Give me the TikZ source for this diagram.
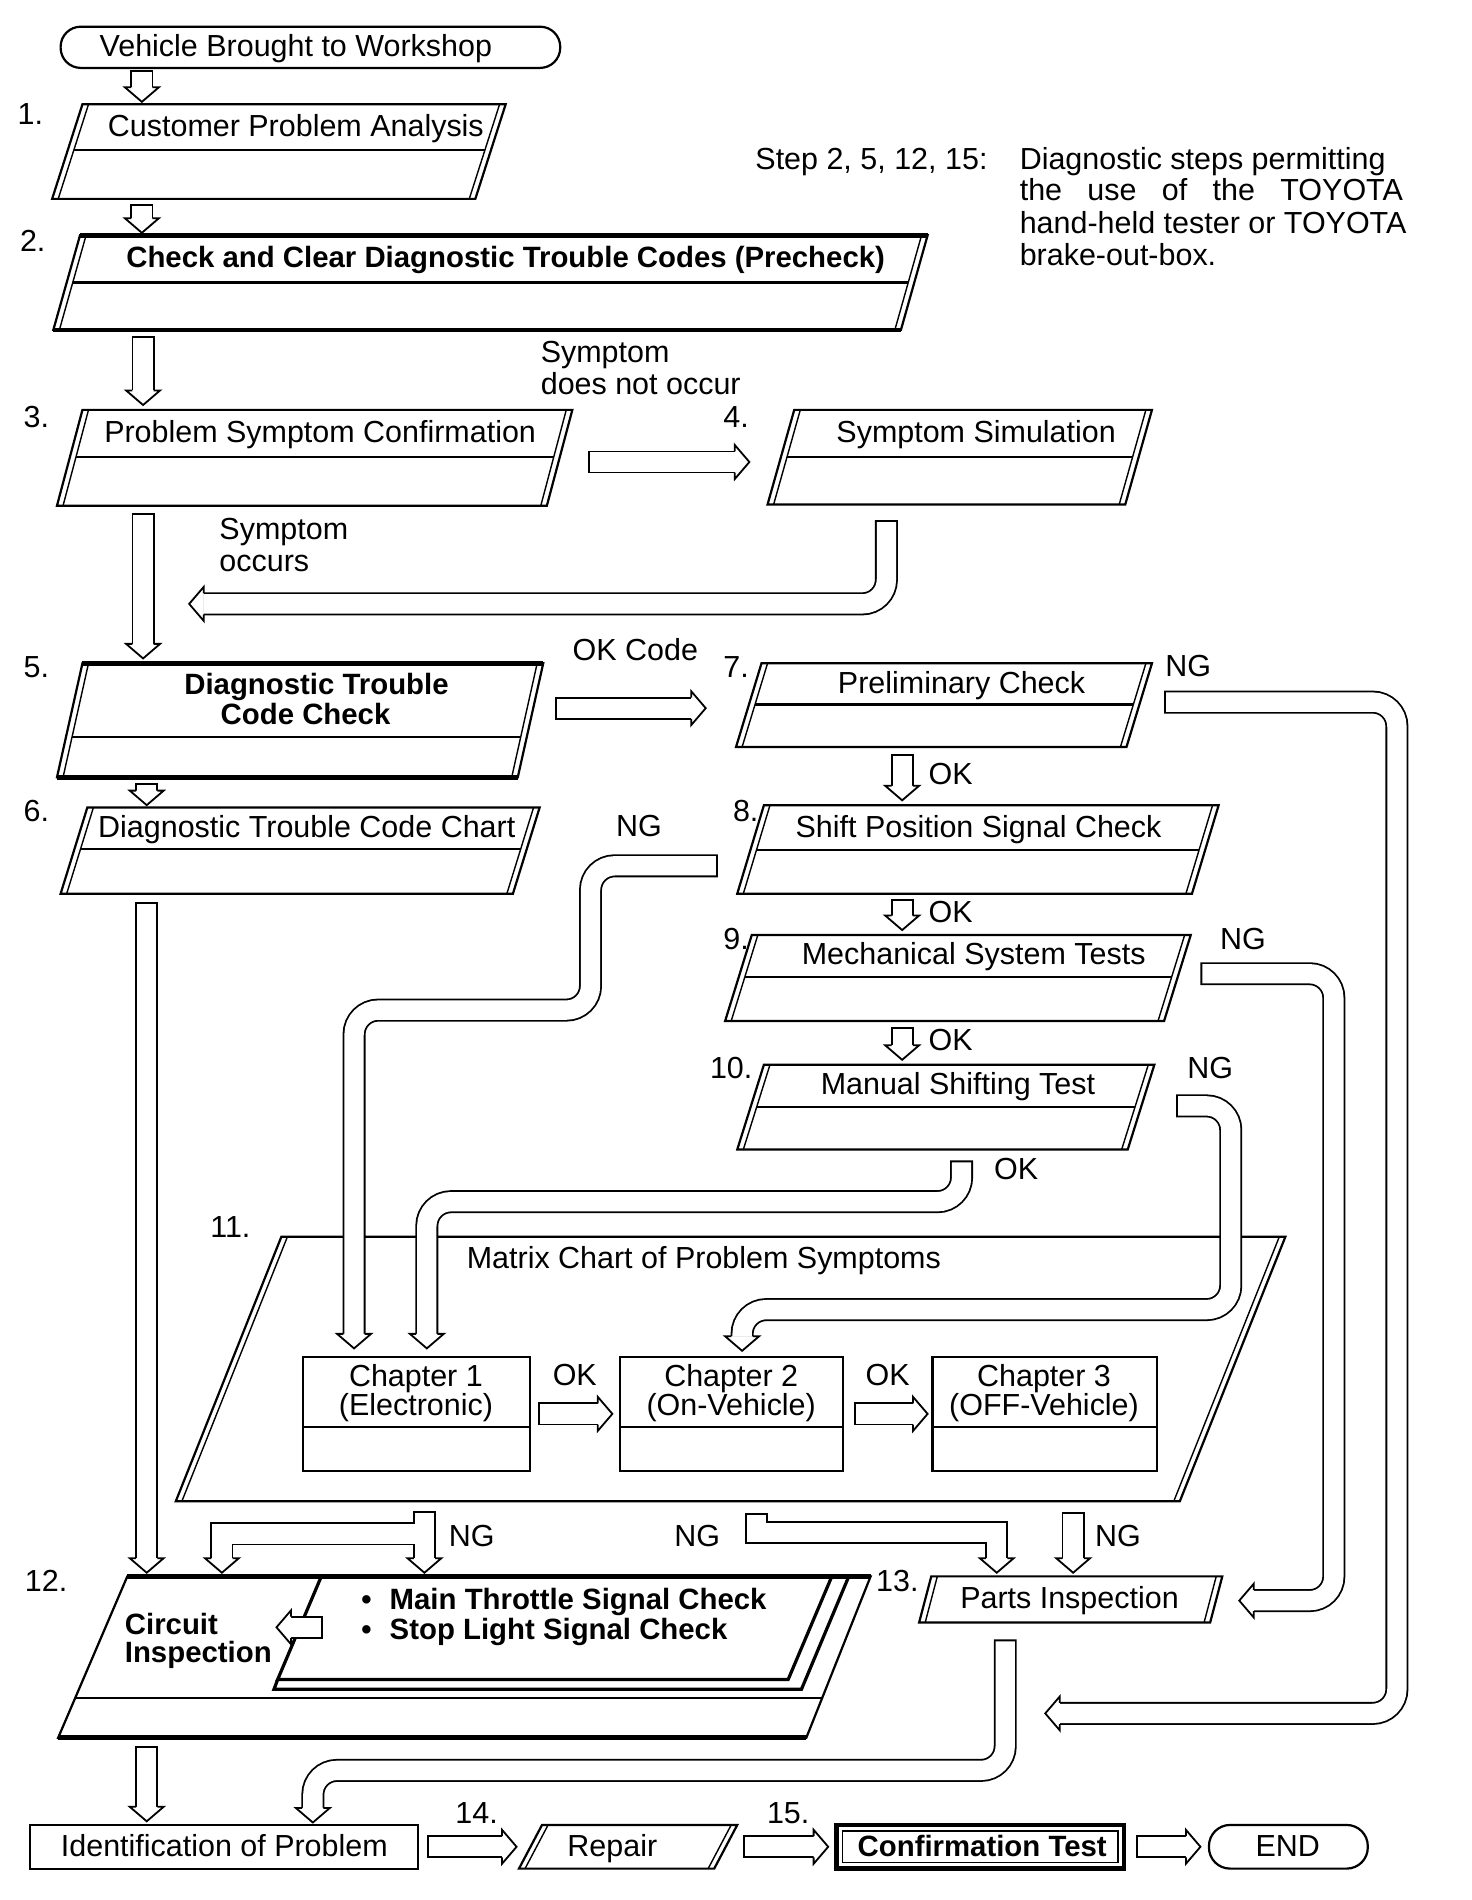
\documentclass[tikz,border=0pt]{standalone}
\usepackage{fontspec}
\setmainfont{Liberation Sans}
\usetikzlibrary{calc}
\newcommand\fnt{\fontsize{15.15pt}{16pt}\selectfont}
\newcommand\bfnt{\fontsize{14.6pt}{16pt}\selectfont\bfseries}
\tikzset{
  every node/.style={inner sep=0pt, outer sep=0pt, font=\fnt, yshift=-2pt},
  t/.style={anchor=mid},
  tw/.style={anchor=mid west},
  shp/.style={line width=1.1pt, line join=miter},
  thintwo/.style={line width=0.7pt},
  heavy/.style={line width=2.3pt},
  medline/.style={line width=1.6pt, line join=miter},
  pipeO/.style={line width=11.4pt, rounded corners=12pt},
  pipeI/.style={white, line width=9.6pt, rounded corners=12pt, shorten <=1.0pt},
  headst/.style={fill=white, draw=black, line width=0.9pt, line join=miter},
}
% parallelogram: [top/bottom style]{name}{xTL}{yT}{xTR}{yB}{slant}
\newcommand\para[7][]{%
  \draw[shp] (#3,#4) -- (#5,#4) -- (#5-#7,#6) -- (#3-#7,#6) -- cycle;
  \draw[thintwo] (#3+5,#4) -- (#3-#7+5,#6);
  \draw[thintwo] (#5-5,#4) -- (#5-#7-5,#6);
  \ifx&#1&\else\draw[#1] (#3,#4) -- (#5,#4); \draw[#1] (#5-#7,#6) -- (#3-#7,#6);\fi
  \coordinate (#2) at ($(#3,#4)!0.5!(#5-#7,#6)$);
}
% middle line: {xTL}{yT}{xTR}{yB}{slant}{ymid}
\newcommand\pmid[6]{%
  \draw[shp] ({#1+5-#5*(#6-#2)/(#4-#2)},#6) -- ({#3-5-#5*(#6-#2)/(#4-#2)},#6);}
% arrow heads
\newcommand\headD[2]{\filldraw[headst] (#1-8.75,#2-12) -- (#1-14,#2-12) -- (#1,#2) -- (#1+14,#2-12) -- (#1+8.75,#2-12);}
\newcommand\headR[2]{\filldraw[headst] (#1-12,#2-8.75) -- (#1-12,#2-14) -- (#1,#2) -- (#1-12,#2+14) -- (#1-12,#2+8.75);}
\newcommand\headL[2]{\filldraw[headst] (#1+12,#2-8.75) -- (#1+12,#2-14) -- (#1,#2) -- (#1+12,#2+14) -- (#1+12,#2+8.75);}
% straight block arrows
\newcommand\arrD[3]{\draw[pipeO] (#1,#2) -- (#1,#3-12); \draw[pipeI] (#1,#2) -- (#1,#3-12); \headD{#1}{#3}}
\newcommand\arrR[3]{\draw[pipeO] (#1,#3) -- (#2-12,#3); \draw[pipeI] (#1,#3) -- (#2-12,#3); \headR{#2}{#3}}
\newcommand\arrL[3]{\draw[pipeO] (#1,#3) -- (#2+12,#3); \draw[pipeI] (#1,#3) -- (#2+12,#3); \headL{#2}{#3}}
\newcommand\pipe[1]{\draw[pipeO] #1; \draw[pipeI] #1;}

\begin{document}
\begin{tikzpicture}[x=0.603pt,y=-0.603pt]
\fill[white] (0,0) rectangle (1213.9,1566.9);
\useasboundingbox (0,0) rectangle (1213.9,1566.9);

% ---------- shapes ----------
\draw[shp, rounded corners=10pt] (50,22) rectangle (462,56);
\node[t] (start) at (244,39) {Vehicle Brought to Workshop};

\para{p1}{68}{86}{417}{164}{25} \pmid{68}{86}{417}{164}{25}{124}
\node[t] (t1) at (244,105) {Customer Problem Analysis};

\para[heavy]{p2}{66}{194}{765}{272}{22} \pmid{66}{194}{765}{272}{22}{233}
\node[t] (t2) at (417,213) {\bfnt Check and Clear Diagnostic Trouble Codes (Precheck)};

\para{p3}{68}{338}{472}{417}{21} \pmid{68}{338}{472}{417}{21}{377}
\node[t] (t3) at (264,357) {Problem Symptom Confirmation};

\para{p4}{655}{338}{950}{416}{22} \pmid{655}{338}{950}{416}{22}{377}
\node[t] (t4) at (805,357) {Symptom Simulation};

\para[heavy]{p5}{68}{547}{448}{641}{21} \pmid{68}{547}{448}{641}{21}{608}
\node[t] (t5a) at (261,565) {\bfnt Diagnostic Trouble};
\node[t] (t5b) at (252,590) {\bfnt Code Check};

\para{p6}{72}{666}{445}{737}{22} \pmid{72}{666}{445}{737}{22}{700}
\node[t] (t6) at (253,683) {Diagnostic Trouble Code Chart};

\para{p7}{628}{547}{950}{616}{21} \pmid{628}{547}{950}{616}{21}{581}
\node[t] (t7) at (793,564) {Preliminary Check};

\para{p8}{630}{664}{1005}{737}{22} \pmid{630}{664}{1005}{737}{22}{701}
\node[t] (t8) at (807,683) {Shift Position Signal Check};

\para{p9}{620}{771}{982}{842}{22} \pmid{620}{771}{982}{842}{22}{806}
\node[t] (t9) at (803,788) {Mechanical System Tests};

\para{p10}{630}{878}{952}{948}{22} \pmid{630}{878}{952}{948}{22}{913}
\node[t] (t10) at (790,895) {Manual Shifting Test};

\para{p11}{232}{1020}{1060}{1238}{87}
\node[tw] (t11) at (385,1038) {Matrix Chart of Problem Symptoms};

% chapters
\draw[shp] (250,1119) rectangle (437,1213); \draw[shp] (250,1177) -- (437,1177);
\draw[shp] (511,1119) rectangle (695,1213); \draw[shp] (511,1177) -- (695,1177);
\draw[shp] (769,1119) rectangle (954,1213); \draw[shp] (769,1177) -- (954,1177);
\node[t] (c1a) at (343,1136) {Chapter 1};
\node[t] (c1b) at (343,1160) {(Electronic)};
\node[t] (c2a) at (603,1136) {Chapter 2};
\node[t] (c2b) at (603,1160) {(On-Vehicle)};
\node[t] (c3a) at (861,1136) {Chapter 3};
\node[t] (c3b) at (861,1160) {(OFF-Vehicle)};

% step 12
\draw[shp] (105,1300) -- (718,1300) -- (665,1433) -- (48,1433) -- cycle;
\draw[heavy] (105,1300) -- (718,1300);
\draw[heavy] (48,1433) -- (665,1433);
\draw[shp] (62,1400) -- (678,1400);
\draw[medline] (265,1300) -- (686,1300) -- (650,1385) -- (229,1385) -- cycle;
\draw[medline] (229,1385) -- (226,1393) -- (661,1393) -- (700,1300);
\node[anchor=mid west] (t12a) at (298,1320) {\bfnt\textbullet\hspace{9pt}Main Throttle Signal Check};
\node[anchor=mid west] (t12b) at (298,1344) {\bfnt\textbullet\hspace{9pt}Stop Light Signal Check};
\node[tw] (t12c) at (103,1340) {\bfnt Circuit};
\node[tw] (t12d) at (103,1363) {\bfnt Inspection};

% step 13
\para{p13}{768}{1300}{1008}{1338}{10}
\node[t] (t13) at (882,1319) {Parts Inspection};

% bottom row
\draw[shp] (25,1505) rectangle (345,1541);
\node[t] (ident) at (185,1523) {Identification of Problem};
\para{p14}{447}{1505}{608}{1541}{19}
\node[t] (t14) at (505,1523) {Repair};
\draw[heavy] (690,1505) rectangle (927,1541);
\draw[thintwo] (695,1510) rectangle (922,1536);
\node[t] (t15) at (810,1523) {\bfnt Confirmation Test};
\draw[shp, rounded corners=10.5pt] (997,1505) rectangle (1128,1541);
\node[t] (endn) at (1062,1523) {END};

% ---------- step numbers ----------
\node[t] (n1) at (25,95) {1.};
\node[t] (n2) at (27,200) {2.};
\node[t] (n3) at (30,345) {3.};
\node[t] (n4) at (607,345) {4.};
\node[t] (n5) at (30,551) {5.};
\node[t] (n6) at (30,670) {6.};
\node[t] (n7) at (607,551) {7.};
\node[t] (n8) at (615,670) {8.};
\node[t] (n9) at (607,775) {9.};
\node[t] (n10) at (603,882) {10.};
\node[t] (n11) at (190,1013) {11.};
\node[t] (n12) at (38,1305) {12.};
\node[t] (n13) at (740,1305) {13.};
\node[t] (n14) at (393,1496) {14.};
\node[t] (n15) at (650,1496) {15.};

% ---------- labels ----------
\node[tw] (s1) at (446,291) {Symptom};
\node[tw] (s2) at (446,318) {does not occur};
\node[tw] (s3) at (181,437) {Symptom};
\node[tw] (s4) at (181,464) {occurs};
\node[t] (okc) at (524,537) {OK Code};
\node[t] (ng7) at (980,550) {NG};
\node[t] (ok7) at (784,639) {OK};
\node[t] (ng8) at (527,682) {NG};
\node[t] (ok8) at (784,753) {OK};
\node[t] (ng9) at (1025,775) {NG};
\node[t] (ok9) at (784,859) {OK};
\node[t] (ng10) at (998,882) {NG};
\node[t] (ok10) at (838,965) {OK};
\node[t] (okc1) at (474,1135) {OK};
\node[t] (okc2) at (732,1135) {OK};
\node[t] (ngA) at (389,1268) {NG};
\node[t] (ngB) at (575,1268) {NG};
\node[t] (ngC) at (922,1268) {NG};

\node[tw] (note0) at (623,132) {Step 2, 5, 12, 15:};
\node[tw] (note1) at (841,132) {Diagnostic steps permitting};
\node[tw] (note2) at (841,158) {\makebox[190.5pt][s]{the use of the TOYOTA}};
\node[tw] (note3) at (841,185) {hand-held tester or TOYOTA};
\node[tw] (note4) at (841,211) {brake-out-box.};

% ---------- connectors ----------
\arrD{117}{58}{84}
\arrD{117}{168}{192}
\arrD{118}{277}{334}
\arrD{118}{423}{543}
\arrD{121}{646}{664}
\arrD{121}{744}{1297}
\arrD{121}{1440}{1502}
\arrD{744}{622}{660}
\arrD{744}{741}{767}
\arrD{744}{847}{874}
\arrD{885}{1247}{1297}

\arrR{485}{618}{381}
\arrR{458}{582}{584}
\arrR{444}{505}{1166}
\arrR{704}{765}{1166}
\arrR{352}{426}{1523}
\arrR{613}{683}{1523}
\arrR{937}{990}{1523}
\arrL{266}{228}{1342}

% symptom simulation back
\pipe{(731,429) -- (731,498) -- (168,498)} \headL{156}{498}
% NG from 7
\pipe{(960,579) -- (1152,579) -- (1152,1413) -- (874,1413)} \headL{862}{1413}
% NG from 9
\pipe{(990,803) -- (1100,803) -- (1100,1320) -- (1034,1320)} \headL{1022}{1320}
% NG from 10
\pipe{(970,912) -- (1015,912) -- (1015,1080) -- (612,1080) -- (612,1102)} \headD{612}{1114}
% NG from 8
\pipe{(592,714) -- (487,714) -- (487,833) -- (292,833) -- (292,1100)} \headD{292}{1112}
% OK from 10
\pipe{(793,957) -- (793,991) -- (352,991) -- (352,1100)} \headD{352}{1112}
% from 13 to identification
\pipe{(829,1352) -- (829,1460) -- (258,1460) -- (258,1491)} \headD{258}{1503}

% T junction below matrix chart
\draw[pipeO, sharp corners] (350,1246) -- (350,1285);
\draw[pipeO, sharp corners] (350,1265) -- (183,1265) -- (183,1285);
\draw[pipeI, sharp corners] (350,1246) -- (350,1285);
\draw[white, line width=9.6pt] (350,1265) -- (183,1265) -- (183,1285);
\headD{350}{1297} \headD{183}{1297}
% middle bent pipe
\draw[pipeO, sharp corners] (624,1248) -- (624,1264) -- (822,1264) -- (822,1285);
\draw[pipeI, sharp corners] (624,1248) -- (624,1264) -- (822,1264) -- (822,1285);
\headD{822}{1297}
\end{tikzpicture}
\end{document}
